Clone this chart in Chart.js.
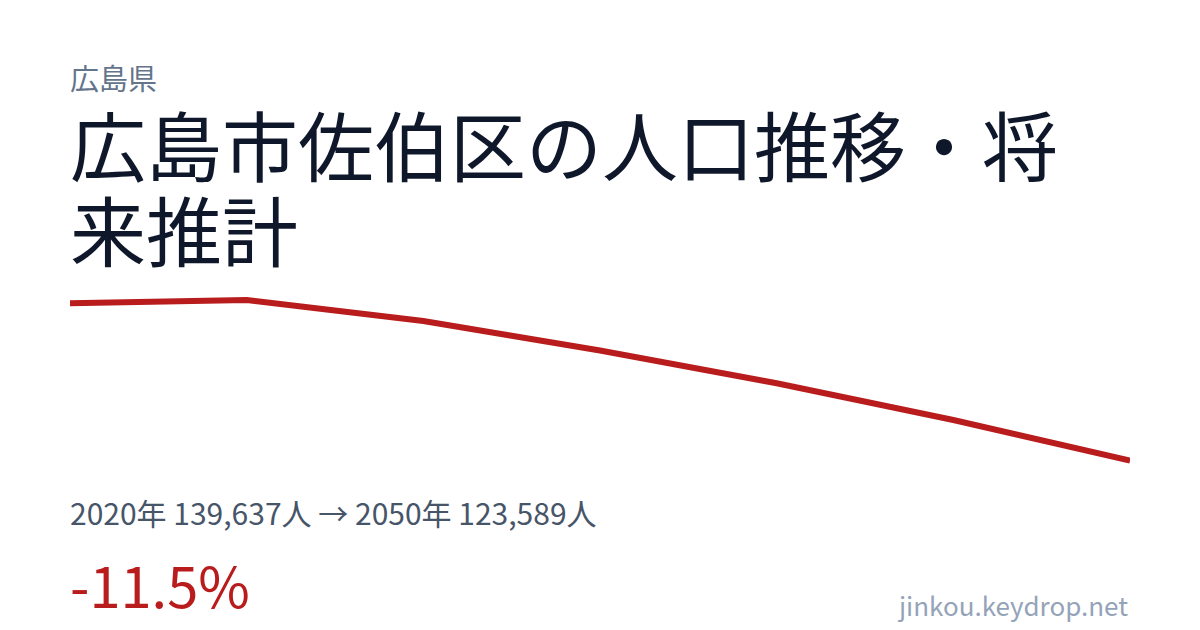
<!DOCTYPE html>
<html lang="ja">

<head>
  <meta charset="UTF-8" />
  <title>広島市佐伯区の人口推移・将来推計</title>
  <style>
    * {
      margin: 0;
      padding: 0;
      box-sizing: border-box;
      font-family: 'Noto Sans CJK JP', 'Noto Sans', sans-serif;
    }

    body {
      width: 1200px;
      height: 630px;
      background: #ffffff;
      position: relative;
      overflow: hidden;
    }

    .pref {
      position: absolute;
      left: 70px;
      top: 63px;
      font-size: 29px;
      line-height: 1;
      color: #64748b;
    }

    h1 {
      position: absolute;
      left: 70px;
      top: 101px;
      width: 1060px;
      font-size: 76px;
      line-height: 85px;
      font-weight: 400;
      color: #0f172a;
    }

    .chart-box {
      position: absolute;
      left: 70px;
      top: 297px;
      width: 1060px;
      height: 167px;
    }

    .stats {
      position: absolute;
      left: 70px;
      top: 497px;
      font-size: 30px;
      line-height: 1;
      color: #475569;
      white-space: nowrap;
    }

    .change {
      position: absolute;
      left: 70px;
      top: 556px;
      font-size: 56px;
      line-height: 1;
      color: #b91c1c;
    }

    .site {
      position: absolute;
      right: 72px;
      top: 592px;
      font-size: 26px;
      line-height: 1;
      color: #94a3b8;
    }
  </style>
</head>

<body>
  <div class="pref">広島県</div>
  <h1>広島市佐伯区の人口推移・将来推計</h1>

  <div class="chart-box">
    <canvas id="chartPopulacao"></canvas>
  </div>

  <div class="stats">2020年 139,637人 → 2050年 123,589人</div>
  <div class="change">-11.5%</div>
  <div class="site">jinkou.keydrop.net</div>

  <script src="https://cdn.jsdelivr.net/npm/chart.js"></script>

  <script>
    const anos = ['2020', '2025', '2030', '2035', '2040', '2045', '2050'];
    const populacao = [139637, 139980, 137840, 134820, 131480, 127730, 123589];

    new Chart(document.getElementById('chartPopulacao'), {
      type: 'line',
      data: {
        labels: anos,
        datasets: [{
          label: '人口',
          data: populacao,
          borderColor: '#b91c1c',
          borderWidth: 6,
          pointRadius: 0,
          tension: 0,
          fill: false,
          clip: false
        }]
      },
      options: {
        responsive: true,
        maintainAspectRatio: false,
        animation: false,
        layout: { padding: { top: 3, bottom: 3.5, left: 0, right: 0 } },
        plugins: {
          legend: { display: false },
          tooltip: { enabled: false }
        },
        scales: {
          x: { display: false, offset: false },
          y: {
            display: false,
            min: Math.min(...populacao),
            max: Math.max(...populacao)
          }
        }
      }
    });
  </script>
</body>

</html>
